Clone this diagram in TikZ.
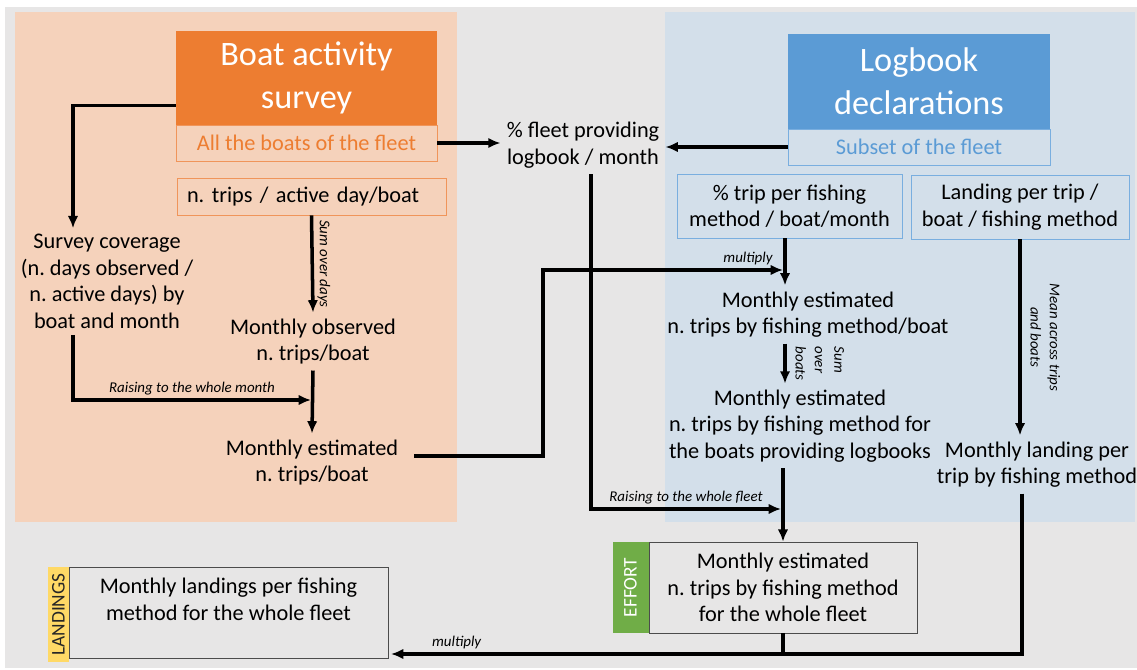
\documentclass[tikz,border=0pt]{standalone}
\usepackage{fontspec}
\setmainfont{Carlito}
\usetikzlibrary{arrows.meta}

\definecolor{bggrey}{HTML}{E7E6E6}
\definecolor{orpanel}{HTML}{F5D2BB}
\definecolor{orhead}{HTML}{ED7D31}
\definecolor{orline}{HTML}{F0955A}
\definecolor{blpanel}{HTML}{D3DFEA}
\definecolor{blhead}{HTML}{5B9BD5}
\definecolor{blline}{HTML}{79AEDF}
\definecolor{effgreen}{HTML}{70AD47}
\definecolor{landyellow}{HTML}{FFD966}

\begin{document}
\frenchspacing
\begin{tikzpicture}[x=0.02cm,y=-0.02cm,
  txt/.style={align=center,font=\fontsize{12.7}{15.1}\selectfont},
  head/.style={fill=#1,text=white,align=center,inner sep=0pt,
    minimum width=5.22cm,minimum height=1.88cm,font=\fontsize{19.5}{24.5}\selectfont},
  sub/.style={draw=#1,inner sep=0pt,minimum height=0.72cm,font=\fontsize{12.7}{15.1}\selectfont},
  flow/.style={->,>={Latex[length=7pt,width=6pt]},line width=2pt},
  note/.style={font=\fontsize{8.5}{11}\selectfont\itshape,inner sep=2pt},
  tag/.style={fill=#1,inner sep=0pt,minimum width=1.82cm,rotate=90,
    font=\fontsize{11}{12}\selectfont}]

%FRAME
\useasboundingbox (0,0) rectangle (1137,670);
\fill[bggrey] (5,7) rectangle (1137,668);
\fill[orpanel] (15,12) rectangle (457,522);
\fill[blpanel] (665,12) rectangle (1135,522);
%FRAME

\node[head=orhead](v1) at (306.5,78) {Boat activity\\survey};
\node[sub=orline,text=orhead,minimum width=5.22cm](v2) at (306.5,143) {All the boats of the fleet};
\node[sub=orline,minimum height=0.74cm,inner xsep=0.2cm,text width=4.98cm,align=left](v3) at (311.5,196.5) {n. trips / active day/boat};

\node[head=blhead,minimum width=5.24cm,minimum height=1.9cm](v4) at (919,81.5) {Logbook\\declarations};
\node[sub=blline,text=blhead,minimum width=5.24cm](v5) at (919,147) {Subset of the fleet};
\node[sub=blline,align=center,minimum width=4.5cm,minimum height=1.28cm](v6) at (789.5,206) {\% trip per fishing\\method / boat/month};
\node[sub=blline,align=center,minimum width=4.36cm,minimum height=1.28cm](v7) at (1020,207) {Landing per trip /\\boat / fishing method};

\node[txt](v8) at (583,145) {\% fleet providing\\logbook / month};
\node[txt](v9) at (107,281.5) {Survey coverage\\(n. days observed /\\n. active days) by\\boat and month};
\node[txt](v10) at (313,341.5) {Monthly observed\\n. trips/boat};
\node[txt](v11) at (312,462.5) {Monthly estimated\\n. trips/boat};
\node[txt](v12) at (808,314.5) {Monthly estimated\\n. trips by fishing method/boat};
\node[txt](v13) at (800,426) {Monthly estimated\\n. trips by fishing method for\\the boats providing logbooks};
\node[txt](v14) at (1037,464.5) {Monthly landing per\\trip by fishing method};

\node[txt,draw=black!70,inner sep=0pt,minimum width=5.36cm,minimum height=1.82cm](v16) at (783,587.5) {Monthly estimated\\n. trips by fishing method\\for the whole fleet};
\node[tag=effgreen,minimum height=0.72cm,text=white](v15) at (630.5,587.5) {EFFORT};
\node[txt,draw=black!70,inner sep=0pt,minimum width=6.38cm,minimum height=1.82cm](v17) at (228.5,612.5) {Monthly landings per fishing\\method for the whole fleet\\~};
\node[tag=landyellow,minimum width=1.9cm,minimum height=0.42cm,text=black!85](v18) at (58.5,614.5) {LANDINGS};

\coordinate(col) at (785,0);
\coordinate(j1) at (311,400);
\coordinate(j2) at (783,270);
\coordinate(j3) at (781,509);
\coordinate(j4) at (391,654);
\coordinate(b1) at (543,456);

\draw[flow] ([yshift=0.4cm]v1.south west) -| ([xshift=-0.68cm]v9.north);
\draw[flow] (v2.east) -- (v8.west |- v2.east);
\draw[flow] (v5.west) -- (v8.east |- v5.west);

\draw[flow] (v3.south) -- (v10.north) node[midway,anchor=south,rotate=-90,note]{Sum over days};
\draw[flow] (v10.south) -- (v11.north);
\draw[flow] ([xshift=-0.68cm]v9.south) |- (j1) node[pos=0.75,above,note]{Raising to the whole month};

\draw[flow] ([xshift=0.2cm]v11.east |- b1) -- (b1) |- (j2) node[pos=1,anchor=south east,note,xshift=-3pt]{multiply};
\draw[flow] (v6.south -| col) -- (v12.north -| col);
\draw[flow] (v12.south -| col) -- (v13.north -| col) node[midway,anchor=south,rotate=-90,note,align=left,yshift=3pt]{Sum\\over\\boats};
\draw[flow] ([xshift=0.16cm]v8.south) |- (j3) node[pos=0.75,above,note]{Raising to the whole fleet};
\draw[flow] (v13.south -| v16.north) -- (v16.north);

\draw[flow] (v7.south) -- (v7.south |- v14.north) node[midway,anchor=south,rotate=-90,note,align=center,yshift=3pt]{Mean across trips\\and boats};
\draw[flow] ([xshift=-0.3cm]v14.south) |- (j4) node[pos=0.948,above,note]{multiply};
\draw[line width=2pt] (v16.south) -- (v16.south |- j4);

\end{tikzpicture}
\end{document}
